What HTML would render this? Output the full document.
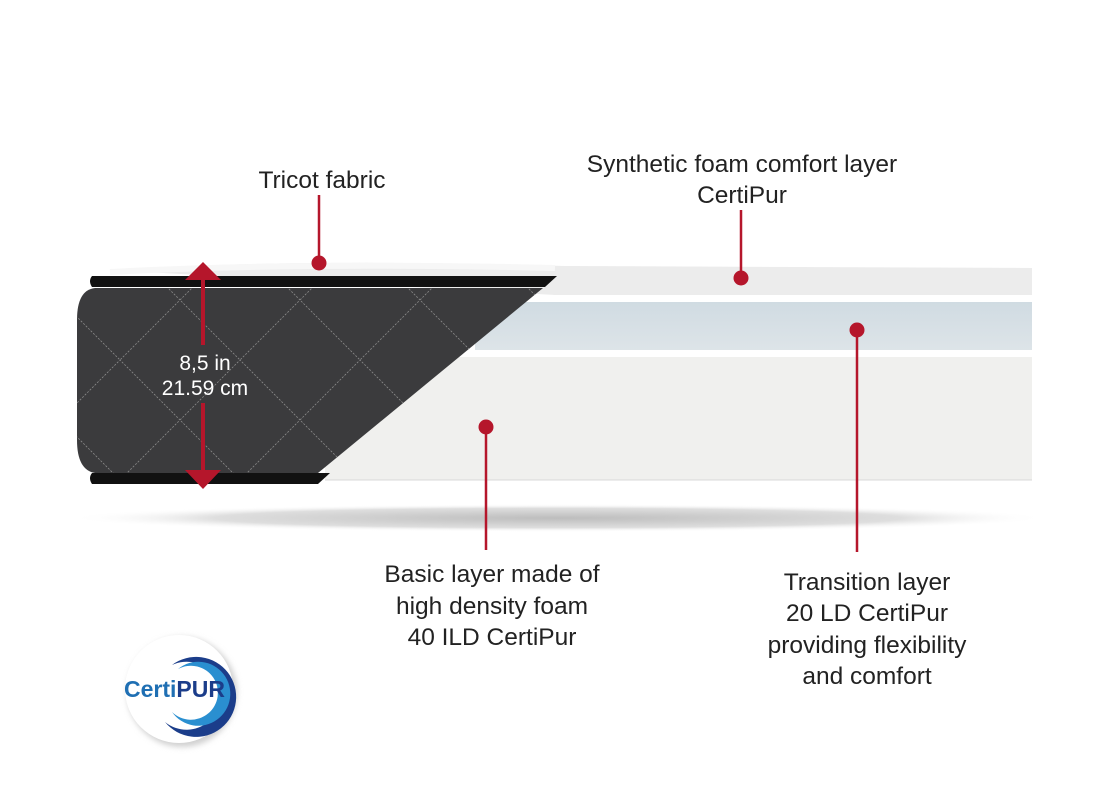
<!DOCTYPE html>
<html><head><meta charset="utf-8"><style>
html,body{margin:0;padding:0;background:#fff;}
svg{display:block;}
text{font-family:"Liberation Sans",sans-serif;}
</style></head><body>
<svg width="1120" height="800" viewBox="0 0 1120 800" xmlns="http://www.w3.org/2000/svg">
<defs>
<radialGradient id="sh" cx="50%" cy="50%" r="50%">
<stop offset="0" stop-color="#bdbdbd"/><stop offset="0.7" stop-color="#dedede"/><stop offset="1" stop-color="#fff" stop-opacity="0"/>
</radialGradient>
<linearGradient id="blue" x1="0" y1="0" x2="0" y2="1"><stop offset="0" stop-color="#d0dbe2"/><stop offset="1" stop-color="#dde4e8"/></linearGradient>
<pattern id="q" width="120" height="120" patternUnits="userSpaceOnUse" x="60" y="0">
<path d="M0 60 L60 0 L120 60 L60 120 Z" fill="none" stroke="#8a8a8a" stroke-width="0.8" stroke-dasharray="2 1.5"/>
</pattern>
<filter id="bl"><feGaussianBlur stdDeviation="3"/></filter>
</defs>
<ellipse cx="558" cy="518" rx="490" ry="14" fill="url(#sh)"/>
<path d="M110 270 Q300 258 565 266 L1032 268 L1032 295 L555 295 Z" fill="#ececec"/>
<path d="M110 272 Q300 262 555 268" fill="none" stroke="#f7f7f7" stroke-width="6"/>
<rect x="475" y="302" width="557" height="48" fill="url(#blue)"/>
<rect x="325" y="357" width="707" height="123" fill="#f0f0ee"/>
<line x1="325" y1="480" x2="1032" y2="480" fill="none" stroke="#d8d8d8"/>
<path d="M95 288 L543 288 L318 473 L95 473 Q77 470 77 440 L77 320 Q77 290 95 288 Z" fill="#3b3b3d"/>
<path d="M95 288 L543 288 L318 473 L95 473 Q77 470 77 440 L77 320 Q77 290 95 288 Z" fill="url(#q)"/>
<path d="M92 276 L557 276 L545 287 L92 287 Q88 281 92 276 Z" fill="#111"/>
<path d="M92 473 L330 473 L318 484 L92 484 Q88 478 92 473 Z" fill="#111"/>
<line x1="203" y1="278" x2="203" y2="345" stroke="#b5162b" stroke-width="4"/>
<line x1="203" y1="403" x2="203" y2="472" stroke="#b5162b" stroke-width="4"/>
<polygon points="203,262 221,280 185,280" fill="#b5162b"/>
<polygon points="203,489 221,470 185,470" fill="#b5162b"/>
<text x="205" y="370" font-size="21" fill="#fff" text-anchor="middle">8,5 in</text>
<text x="205" y="395" font-size="21" fill="#fff" text-anchor="middle">21.59 cm</text>
<g stroke="#b5162b" stroke-width="2.5">
<line x1="319" y1="195" x2="319" y2="263"/>
<line x1="741" y1="210" x2="741" y2="278"/>
<line x1="857" y1="330" x2="857" y2="552"/>
<line x1="486" y1="427" x2="486" y2="550"/>
</g>
<g fill="#b5162b">
<circle cx="319" cy="263" r="7.5"/><circle cx="741" cy="278" r="7.5"/>
<circle cx="857" cy="330" r="7.5"/><circle cx="486" cy="427" r="7.5"/>
</g>
<g font-size="24.5" fill="#222" text-anchor="middle">
<text x="322" y="188">Tricot fabric</text>
<text x="742" y="172">Synthetic foam comfort layer</text>
<text x="742" y="203">CertiPur</text>
<text x="492" y="582">Basic layer made of</text>
<text x="492" y="614">high density foam</text>
<text x="492" y="645">40 ILD CertiPur</text>
<text x="867" y="590">Transition layer</text>
<text x="867" y="621">20 LD CertiPur</text>
<text x="867" y="653">providing flexibility</text>
<text x="867" y="684">and comfort</text>
</g>
<circle cx="182" cy="692" r="55" fill="#d0d0d0" filter="url(#bl)"/>
<circle cx="179" cy="689" r="54" fill="#fff"/>
<path d="M172 665 A40 40 0 1 1 165 722 A34 34 0 1 0 172 665 Z" fill="#1b3d8a"/>
<path d="M178 669 A32 32 0 1 1 172 712 A27 27 0 1 0 178 669 Z" fill="#2a8fd0"/>
<text x="124" y="697" font-size="23" font-weight="bold" fill="#1f6fb3">Certi<tspan fill="#1b3d8a">PUR</tspan></text>
</svg>
</body></html>
